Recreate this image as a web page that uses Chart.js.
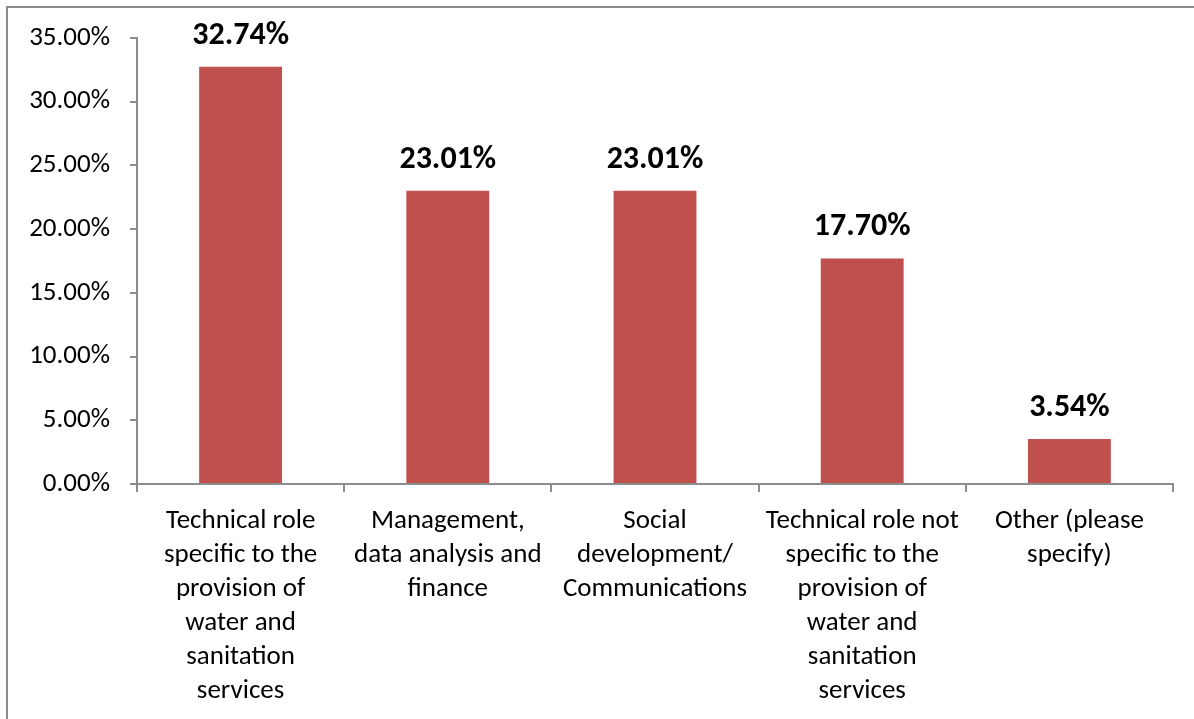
<!DOCTYPE html>
<html>
<head>
<meta charset="utf-8">
<script src="https://cdn.jsdelivr.net/npm/chart.js@4/dist/chart.umd.min.js"></script>
<style>
  html, body { margin: 0; padding: 0; background: #fff; }
  #wrap { position: relative; width: 1194px; height: 719px; overflow: hidden; }
  #frame { position: absolute; left: 6px; top: 6px; right: -10px; bottom: -10px;
           border-top: 2px solid #8c8c8c; border-left: 2px solid #8c8c8c; }
  #chart { position: absolute; left: 0; top: 0; }
</style>
</head>
<body>
<div id="wrap">
  <div id="frame"></div>
  <canvas id="chart" width="1194" height="719"></canvas>
</div>
<script>
var categories = [
    ["Technical role", "specific to the", "provision of", "water and", "sanitation", "services"],
    ["Management,", "data analysis and", "finance"],
    ["Social", "development/", "Communications"],
    ["Technical role not", "specific to the", "provision of", "water and", "sanitation", "services"],
    ["Other (please", "specify)"]
];
var shares = [32.74, 23.01, 23.01, 17.70, 3.54];
var yTicks = [0, 5, 10, 15, 20, 25, 30, 35];

var fontFamily = "Carlito, Calibri, Lato, 'Open Sans', sans-serif";

// draws the bold value above each bar
var valueLabels = {
    id: 'valueLabels',
    afterDatasetsDraw: function (chart) {
        var ctx = chart.ctx;
        var meta = chart.getDatasetMeta(0);
        ctx.save();
        ctx.font = "bold 32px " + fontFamily;
        ctx.fillStyle = "#000";
        ctx.textAlign = "center";
        ctx.textBaseline = "middle";
        meta.data.forEach(function (bar, i) {
            ctx.fillText(shares[i].toFixed(2) + "%", bar.x, bar.y - 31);
        });
        ctx.restore();
    }
};

document.addEventListener('DOMContentLoaded', function () {
    var canvas = document.getElementById("chart");
    new Chart(canvas, {
        type: 'bar',
        data: {
            labels: categories,
            datasets: [{
                data: shares,
                backgroundColor: '#C0504D',
                borderWidth: 0,
                categoryPercentage: 0.4,
                barPercentage: 1.0
            }]
        },
        options: {
            responsive: false,
            maintainAspectRatio: false,
            animation: false,
            layout: { padding: { top: 38, right: 21, left: 0, bottom: 0 } },
            plugins: {
                legend: { display: false },
                tooltip: { enabled: false }
            },
            scales: {
                x: {
                    offset: true,
                    grid: {
                        offset: true,
                        drawOnChartArea: false,
                        tickLength: 8,
                        color: '#8c8c8c',
                        lineWidth: 2
                    },
                    border: { color: '#8c8c8c', width: 2 },
                    ticks: {
                        color: '#000',
                        padding: 12,
                        maxRotation: 0,
                        autoSkip: false,
                        font: { family: fontFamily, size: 27, lineHeight: 34 / 27 }
                    },
                    afterFit: function (scale) { scale.height = 719 - 484; }
                },
                y: {
                    min: 0,
                    max: 35,
                    afterBuildTicks: function (scale) {
                        scale.ticks = yTicks.map(function (v) { return { value: v }; });
                    },
                    grid: {
                        drawOnChartArea: false,
                        tickLength: 7,
                        color: '#8c8c8c',
                        lineWidth: 2
                    },
                    border: { color: '#8c8c8c', width: 2 },
                    ticks: {
                        color: '#000',
                        padding: 20,
                        font: { family: fontFamily, size: 27 },
                        callback: function (v) { return v.toFixed(2) + "%"; }
                    },
                    afterFit: function (scale) { scale.width = 137; }
                }
            }
        },
        plugins: [valueLabels]
    });
});
</script>
</body>
</html>
